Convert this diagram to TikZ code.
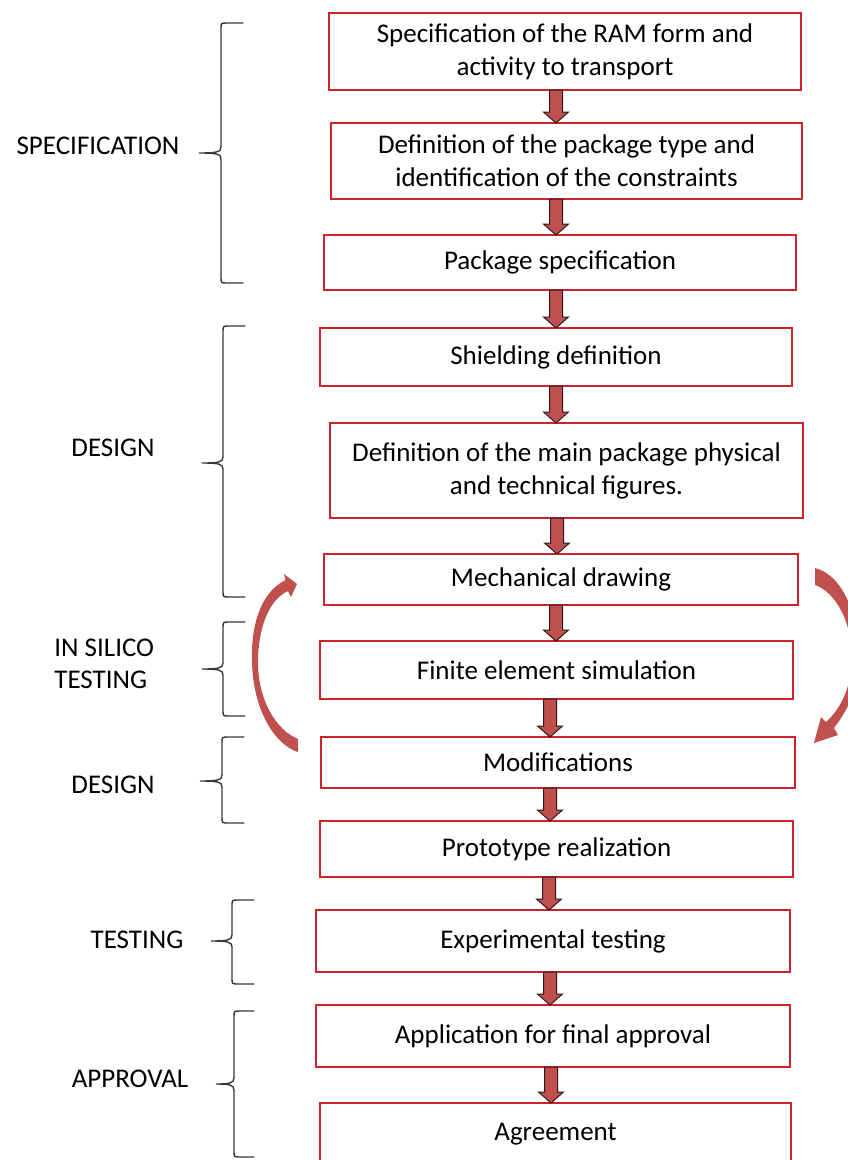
\documentclass[tikz,border=0pt]{standalone}
\usepackage{fontspec}
\setmainfont{Carlito}
\usepackage{tikz}
\usetikzlibrary{calc}
\definecolor{myboxred}{RGB}{208, 32, 40}
\definecolor{myarrowred}{RGB}{192, 80, 77}
\definecolor{mybracegray}{RGB}{55, 55, 55}
\tikzset{every picture/.style={line width=0.75pt}}
\tikzset{
  stepbox/.style={draw=myboxred, line width=1.3pt, fill=white, inner sep=0pt, outer sep=0pt, align=center, font=\fontsize{27}{33}\selectfont},
  phaselabel/.style={font=\fontsize{27}{32}\selectfont, inner sep=0pt, align=left},
  blockarrow/.style={fill=myarrowred, draw={rgb, 255:red, 45; green, 25; blue, 25}, line width=1pt},
  bracestyle/.style={draw=mybracegray, line width=1.4pt, line cap=round},
  loopshape/.style={fill=myarrowred, draw=none}
}
% block arrow from the bottom of #2 to the top of #3, at x = #1
\newcommand{\blockdown}[3]{%
  \coordinate (ta) at (#1,0 |- #2.south);
  \coordinate (tb) at (#1,0 |- #3.north);
  \draw[blockarrow] ($(ta)+(-6.5,0)$) -- ($(ta)+(6.5,0)$) -- ($(tb)+(6.5,-11)$) -- ($(tb)+(12.5,-11)$) -- (tb) -- ($(tb)+(-12.5,-11)$) -- ($(tb)+(-6.5,-11)$) -- cycle;
}
% brace: end x, stem x, tip x, top y, tip y, bottom y
\newcommand{\phasebrace}[6]{%
  \draw[bracestyle] (#1,#4) -- ({#2+6},#4) .. controls (#2,#4) .. (#2,{#4+6}) -- (#2,{#5-6})
    .. controls (#2,{#5-1}) and ({#2-4},#5) .. (#3,#5)
    .. controls ({#2-4},#5) and (#2,{#5+1}) .. (#2,{#5+6}) -- (#2,{#6-6})
    .. controls (#2,#6) .. ({#2+6},#6) -- (#1,#6);
}

\begin{document}
\begin{tikzpicture}[x=1pt,y=1pt,yscale=-1,xscale=1]
\useasboundingbox (0,0) rectangle (847,1160);

%Flowchart: Process
\node[stepbox, minimum width=472, minimum height=77] (ramform) at (565,51.5) {Specification of the RAM form and\\activity to transport};
\node[stepbox, minimum width=471, minimum height=76] (packtype) at (566.5,161) {Definition of the package type and\\identification of the constraints};
\node[stepbox, minimum width=472, minimum height=55] (packspec) at (560,262.5) {Package specification};
\node[stepbox, minimum width=472, minimum height=58] (shield) at (556,357) {Shielding definition};
\node[stepbox, minimum width=473, minimum height=95] (figures) at (566.5,470.5) {Definition of the main package physical\\and technical figures.};
\node[stepbox, minimum width=474, minimum height=51] (drawing) at (561,579.5) {Mechanical drawing};
\node[stepbox, minimum width=473, minimum height=58] (fem) at (556.5,670) {Finite element simulation};
\node[stepbox, minimum width=474, minimum height=51] (modif) at (558,762.5) {Modifications};
\node[stepbox, minimum width=473, minimum height=56] (proto) at (556.5,849) {Prototype realization};
\node[stepbox, minimum width=474, minimum height=62] (exptest) at (553,941) {Experimental testing};
\node[stepbox, minimum width=474, minimum height=62] (apply) at (553,1036) {Application for final approval};
\node[stepbox, minimum width=471, minimum height=62] (agree) at (555.5,1134) {Agreement};

%Block Arrows
\blockdown{556}{ramform}{packtype}
\blockdown{556}{packtype}{packspec}
\blockdown{556}{packspec}{shield}
\blockdown{556}{shield}{figures}
\blockdown{557}{figures}{drawing}
\blockdown{556}{drawing}{fem}
\blockdown{550}{fem}{modif}
\blockdown{550}{modif}{proto}
\blockdown{549}{proto}{exptest}
\blockdown{550}{exptest}{apply}
\blockdown{551}{apply}{agree}

%Phase labels
\node[phaselabel] (lspec) at (98,146) {SPECIFICATION};
\node[phaselabel] (ldesign) at (113,448) {DESIGN};
\node[phaselabel, anchor=west] (lsilico) at (54,664) {IN SILICO\\TESTING};
\node[phaselabel] (ldesigntwo) at (113,785) {DESIGN};
\node[phaselabel] (ltest) at (137,940) {TESTING};
\node[phaselabel] (lapprove) at (130,1079) {APPROVAL};

%Braces
\phasebrace{243}{221}{199}{23}{153}{283}
\phasebrace{245}{223}{202}{326}{463}{597}
\phasebrace{245}{223}{202}{622}{669}{716}
\phasebrace{244}{222}{200}{737}{781}{823}
\phasebrace{254}{232}{211}{900}{941}{984}
\phasebrace{254}{234}{216}{1011}{1084}{1157}

%Curved Arrow left
\fill[loopshape] (297,584) -- (284,574) -- (285.5,580)
  .. controls (258,594) and (251,630) .. (252,662)
  .. controls (253,710) and (275,745) .. (298,752)
  -- (298,739)
  .. controls (276,730) and (258,700) .. (258,662)
  .. controls (258,630) and (268,600) .. (288,591)
  -- (291,597) -- cycle;
%Curved Arrow right
\fill[loopshape] (814,743) -- (838,735) -- (834,728)
  .. controls (852,705) and (860,680) .. (859,655)
  .. controls (858,615) and (843,575) .. (815,568)
  -- (815,585)
  .. controls (835,592) and (851,620) .. (852,655)
  .. controls (853,685) and (840,710) .. (826,722)
  -- (821,717) -- cycle;
\end{tikzpicture}
\end{document}
